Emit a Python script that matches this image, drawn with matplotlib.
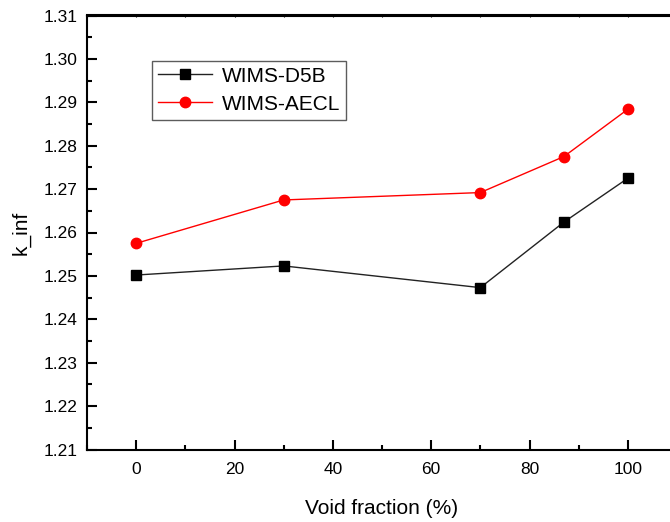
import matplotlib.pyplot as plt
from matplotlib.ticker import MultipleLocator

plt.rcParams['font.family'] = ['Liberation Sans', 'DejaVu Sans']

void_fraction = [0, 30, 70, 87, 100]
wims_d5b = [1.2502, 1.2523, 1.2473, 1.2624, 1.2725]
wims_aecl = [1.2575, 1.2675, 1.2692, 1.2775, 1.2884]

fig = plt.figure(figsize=(6.7, 5.22), dpi=100)
ax = fig.add_axes([87 / 670, 1 - 449.5 / 522, 590 / 670, 434 / 522])

ax.plot(void_fraction, wims_d5b, color='#222222', lw=1.0, marker='s',
        markersize=7, markerfacecolor='black', markeredgecolor='black', label='WIMS-D5B')
ax.plot(void_fraction, wims_aecl, color='red', lw=1.0, marker='o',
        markersize=7.5, markerfacecolor='red', markeredgecolor='red', label='WIMS-AECL')

ax.set_xlim(-10, 110)
ax.set_ylim(1.21, 1.31)
ax.xaxis.set_major_locator(MultipleLocator(20))
ax.xaxis.set_minor_locator(MultipleLocator(10))
ax.yaxis.set_major_locator(MultipleLocator(0.01))
ax.yaxis.set_minor_locator(MultipleLocator(0.005))
ax.yaxis.set_major_formatter(plt.FormatStrFormatter('%.2f'))

for s in ax.spines.values():
    s.set_linewidth(1.5)
ax.tick_params(which='major', direction='in', length=7, width=1.5, labelsize=12.5)
ax.tick_params(which='minor', direction='in', length=3.5, width=1.5)
ax.tick_params(axis='x', which='major', pad=9)
ax.tick_params(axis='y', which='major', pad=7)

top = ax.secondary_xaxis('top')
top.xaxis.set_major_locator(MultipleLocator(20))
top.xaxis.set_minor_locator(MultipleLocator(10))
top.tick_params(which='both', direction='in', length=1.5, width=0.8, labeltop=False)
top.spines['top'].set_linewidth(1.5)

ax.set_xlabel('Void fraction (%)', fontsize=15, labelpad=16)
ax.set_ylabel('k_inf', fontsize=15, labelpad=9)

leg = ax.legend(loc='upper left', bbox_to_anchor=(65 / 590, 1 - 45 / 434),
                fontsize=15, frameon=True, fancybox=False, borderpad=0.3,
                borderaxespad=0, handlelength=2.6, handletextpad=0.45, labelspacing=0.42)
leg.get_frame().set_edgecolor('#333333')
leg.get_frame().set_linewidth(1.0)

fig.savefig('out.png', dpi=100)
